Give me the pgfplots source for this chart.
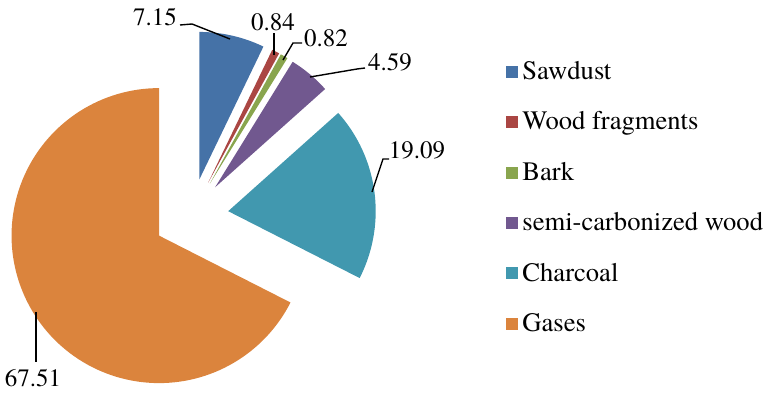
\documentclass[border=0pt]{standalone}
\usepackage{pgfplots}
\pgfplotsset{compat=1.18}
\usepackage{fontspec}
\setmainfont{texgyretermes-regular.otf}

\definecolor{cSaw}{HTML}{4572A7}
\definecolor{cWood}{HTML}{AA4643}
\definecolor{cBark}{HTML}{89A54E}
\definecolor{cSemi}{HTML}{71588F}
\definecolor{cChar}{HTML}{4198AF}
\definecolor{cGas}{HTML}{DB843D}

% pie geometry (axis units)
\newcommand\cx{191}
\newcommand\cy{177}
\newcommand\R{147.5}
\newcommand\explode{37.5}
\gdef\curA{90}

% one exploded slice: value (%), colour, legend text
\newcommand\pieslice[3]{%
  \pgfmathsetmacro\aS{\curA}%
  \pgfmathsetmacro\aE{\curA-3.6*#1}%
  \pgfmathsetmacro\aM{(\aS+\aE)/2}%
  \pgfmathsetmacro\ox{\cx+\explode*cos(\aM)}%
  \pgfmathsetmacro\oy{\cy+\explode*sin(\aM)}%
  \edef\doslice{\noexpand\addplot[fill=#2, draw=none, domain=\aE:\aS, samples=120, variable=\noexpand\t]
    ({\ox+\R*cos(\noexpand\t)}, {\oy+\R*sin(\noexpand\t)}) -- (axis cs:\ox,\oy) -- cycle;}%
  \doslice
  \addlegendentry{#3}%
  \xdef\curA{\aE}%
}

\begin{document}
\begin{tikzpicture}
\useasboundingbox (0,0) rectangle (382pt,196.5pt);
\begin{axis}[
  at={(0,0)}, anchor=south west,
  x=0.5pt, y=0.5pt,
  xmin=0, xmax=764, ymin=0, ymax=393,
  hide axis, clip=false,
  legend image code/.code={\fill[#1] (0pt,-3pt) rectangle (6pt,3pt);},
  legend cell align=left,
  legend style={
    at={(axis cs:500,340)}, anchor=north west,
    draw=none, fill=none,
    font=\fontsize{13.3}{16}\selectfont,
    row sep=10.6pt,
    /tikz/every even column/.append style={column sep=2pt},
  },
]
\pieslice{7.15}{cSaw}{Sawdust}
\pieslice{0.84}{cWood}{Wood fragments}
\pieslice{0.82}{cBark}{Bark}
\pieslice{4.59}{cSemi}{semi-carbonized wood}
\pieslice{19.09}{cChar}{Charcoal}
\pieslice{67.51}{cGas}{Gases}

% data labels with leader lines
\begin{scope}[line width=0.7pt]
\draw (axis cs:180,368) -- (axis cs:192,369) -- (axis cs:230,354);
\draw (axis cs:274,360) -- (axis cs:274,338);
\draw (axis cs:302,350) -- (axis cs:293,350) -- (axis cs:283,333);
\draw (axis cs:365,325) -- (axis cs:357,324) -- (axis cs:310,316);
\draw (axis cs:389,234) -- (axis cs:383,234) -- (axis cs:372,201);
\draw (axis cs:36,81) -- (axis cs:36,31);
\end{scope}
\begin{scope}[font=\fontsize{12.5}{14}\selectfont, inner sep=0pt]
\node at (axis cs:155,376) {7.15};
\node at (axis cs:273,371) {0.84};
\node at (axis cs:326,355) {0.82};
\node at (axis cs:390,331) {4.59};
\node at (axis cs:417,243) {19.09};
\node at (axis cs:33,15) {67.51};
\end{scope}
\end{axis}
\end{tikzpicture}
\end{document}
